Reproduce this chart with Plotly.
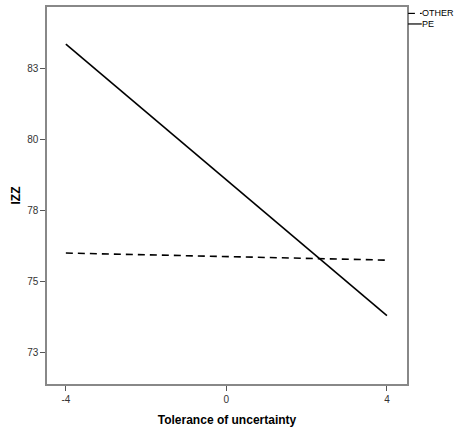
import plotly.graph_objects as go

x_vals = [-4, 4]
other_vals = [76.0, 75.75]
pe_vals = [83.35, 73.8]
series_names = ["OTHER", "PE"]
y_tickvals = [72.5, 75, 77.5, 80, 82.5]
y_ticktext = ["73", "75", "78", "80", "83"]
x_tickvals = [-4, 0, 4]
x_ticktext = ["-4", "0", "4"]

FONT = "Liberation Sans, Arial, sans-serif"

fig = go.Figure()
fig.add_trace(go.Scatter(x=x_vals, y=other_vals, mode="lines", name=series_names[0],
                         line=dict(color="black", width=1.6, dash="7px,5px")))
fig.add_trace(go.Scatter(x=x_vals, y=pe_vals, mode="lines", name=series_names[1],
                         line=dict(color="black", width=1.6)))

axis_common = dict(showgrid=False, zeroline=False, showline=True, linecolor="#888888",
                   linewidth=1.5, mirror=True, ticks="outside", ticklen=5, tickcolor="#555555",
                   tickwidth=1, tickfont=dict(family=FONT, size=10, color="#333333"))

fig.update_xaxes(range=[-4.47, 4.5], tickvals=x_tickvals, ticktext=x_ticktext,
                 title=dict(text="<b>Tolerance of uncertainty</b>", standoff=12,
                            font=dict(family=FONT, size=12, color="black")), **axis_common)
fig.update_yaxes(range=[71.39, 84.66], tickvals=y_tickvals, ticktext=y_ticktext,
                 title=dict(text="<b>IZZ</b>", standoff=4,
                            font=dict(family=FONT, size=12, color="black")), **axis_common)

# manual legend (outside plot, top right)
legend_rows = [(series_names[0], "dash", 0.983), (series_names[1], "solid", 0.955)]
for name, dash, yp in legend_rows:
    if dash == "dash":
        fig.add_shape(type="line", xref="paper", yref="paper", x0=1.003, x1=1.022, y0=yp, y1=yp,
                      line=dict(color="black", width=1.2))
        fig.add_shape(type="line", xref="paper", yref="paper", x0=1.036, x1=1.041, y0=yp, y1=yp,
                      line=dict(color="black", width=1.2))
    else:
        fig.add_shape(type="line", xref="paper", yref="paper", x0=1.003, x1=1.041, y0=yp, y1=yp,
                      line=dict(color="black", width=1.2))
    fig.add_annotation(text=name, xref="paper", yref="paper", x=1.041, y=yp, xanchor="left",
                       yanchor="middle", showarrow=False, xshift=-2,
                       font=dict(family=FONT, size=9, color="black"))

fig.update_layout(width=455, height=430, margin=dict(l=47, r=48, t=5, b=44),
                  paper_bgcolor="white", plot_bgcolor="white", showlegend=False)

fig.write_html("out.html", config={"displayModeBar": False},
               post_script="document.body.style.margin='0';document.body.style.padding='0';")
